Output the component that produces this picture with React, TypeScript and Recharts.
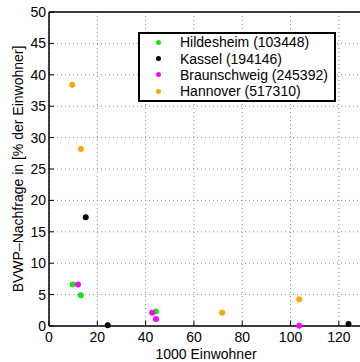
import { ScatterChart, Scatter, XAxis, YAxis, CartesianGrid } from "recharts";

// values (x in 1000 Einwohner, y in % der Einwohner)
const seriesNames = [
  "Hildesheim (103448)",
  "Kassel (194146)",
  "Braunschweig (245392)",
  "Hannover (517310)",
];
const seriesColors = ["#14e614", "#000000", "#ff00ff", "#ffa500"];

const hildesheimX = [9.8, 13.2, 44.3];
const hildesheimY = [6.6, 4.9, 2.3];
const kasselX = [15.2, 24.3, 124.0];
const kasselY = [17.3, 0.1, 0.3];
const braunschweigX = [12.0, 42.7, 44.3, 103.6];
const braunschweigY = [6.6, 2.1, 1.1, 0.05];
const hannoverX = [9.6, 13.2, 71.7, 103.6];
const hannoverY = [38.4, 28.2, 2.1, 4.25];

const xTicks = [0, 20, 40, 60, 80, 100, 120];
const yTicks = [0, 5, 10, 15, 20, 25, 30, 35, 40, 45, 50];

const toPoints = (xs: number[], ys: number[]) => xs.map((x, i) => ({ x, y: ys[i] }));

const series = [
  toPoints(hildesheimX, hildesheimY),
  toPoints(kasselX, kasselY),
  toPoints(braunschweigX, braunschweigY),
  toPoints(hannoverX, hannoverY),
];

const font = "'Liberation Sans', Arial, Helvetica, sans-serif";

function Dot(props: any) {
  const { cx, cy, fill } = props;
  return <circle cx={cx} cy={cy} r={3} fill={fill} />;
}

// legend box drawn over the plot, like the matlab one
function LegendBox() {
  return (
    <div
      style={{
        position: "absolute",
        left: 138,
        top: 32,
        border: "2px solid #000",
        background: "#fff",
        width: 194,
        fontFamily: font,
        fontSize: 14,
        color: "#000",
      }}
    >
      {seriesNames.map((name, i) => (
        <div key={name} style={{ display: "flex", alignItems: "center", height: 16.4 }}>
          <span
            style={{
              display: "inline-block",
              width: 5,
              height: 5,
              borderRadius: "50%",
              background: seriesColors[i],
              marginLeft: 16,
            }}
          />
          <span style={{ marginLeft: 19, whiteSpace: "nowrap" }}>{name}</span>
        </div>
      ))}
    </div>
  );
}

export default function App() {
  return (
    <div
      style={{
        position: "absolute",
        left: 0,
        top: 0,
        width: 360,
        height: 362,
        overflow: "hidden",
        background: "#fff",
        fontFamily: font,
      }}
    >
      <ScatterChart width={370} height={362} margin={{ top: 11, right: 7, left: 0, bottom: 0 }}>
        <CartesianGrid stroke="#8a8a8a" strokeDasharray="1 3" />
        <XAxis
          type="number"
          dataKey="x"
          domain={[0, 130]}
          ticks={xTicks}
          allowDataOverflow
          height={36}
          tickSize={-5}
          tickMargin={11}
          tick={{ fill: "#000", fontSize: 14 }}
          axisLine={{ stroke: "#000", strokeWidth: 1.5 }}
          tickLine={{ stroke: "#000" }}
          label={{ value: "1000 Einwohner", position: "insideBottom", offset: 3, fill: "#000", fontSize: 14 }}
        />
        <XAxis
          xAxisId="top"
          orientation="top"
          type="number"
          dataKey="x"
          domain={[0, 130]}
          ticks={xTicks}
          height={1}
          tickSize={-5}
          tickFormatter={() => ""}
          axisLine={{ stroke: "#000", strokeWidth: 1.5 }}
          tickLine={{ stroke: "#000" }}
        />
        <YAxis
          type="number"
          dataKey="y"
          domain={[0, 50]}
          ticks={yTicks}
          width={49}
          tickSize={-5}
          tickMargin={8}
          tick={{ fill: "#000", fontSize: 14 }}
          axisLine={{ stroke: "#000", strokeWidth: 1.5 }}
          tickLine={{ stroke: "#000" }}
          label={{
            content: (p: any) => {
              const vb = p.viewBox || { x: 0, y: 12, width: 49, height: 314 };
              const cx = vb.x + 18;
              const cy = vb.y + vb.height / 2;
              return (
                <text
                  x={cx}
                  y={cy}
                  transform={`rotate(-90 ${cx} ${cy})`}
                  textAnchor="middle"
                  dominantBaseline="central"
                  fontSize={14}
                  fill="#000"
                >
                  BVWP–Nachfrage in [% der Einwohner]
                </text>
              );
            },
          }}
        />
        {series.map((data, i) => (
          <Scatter
            key={seriesNames[i]}
            name={seriesNames[i]}
            data={data}
            fill={seriesColors[i]}
            shape={<Dot />}
            isAnimationActive={false}
          />
        ))}
      </ScatterChart>
      <LegendBox />
    </div>
  );
}
